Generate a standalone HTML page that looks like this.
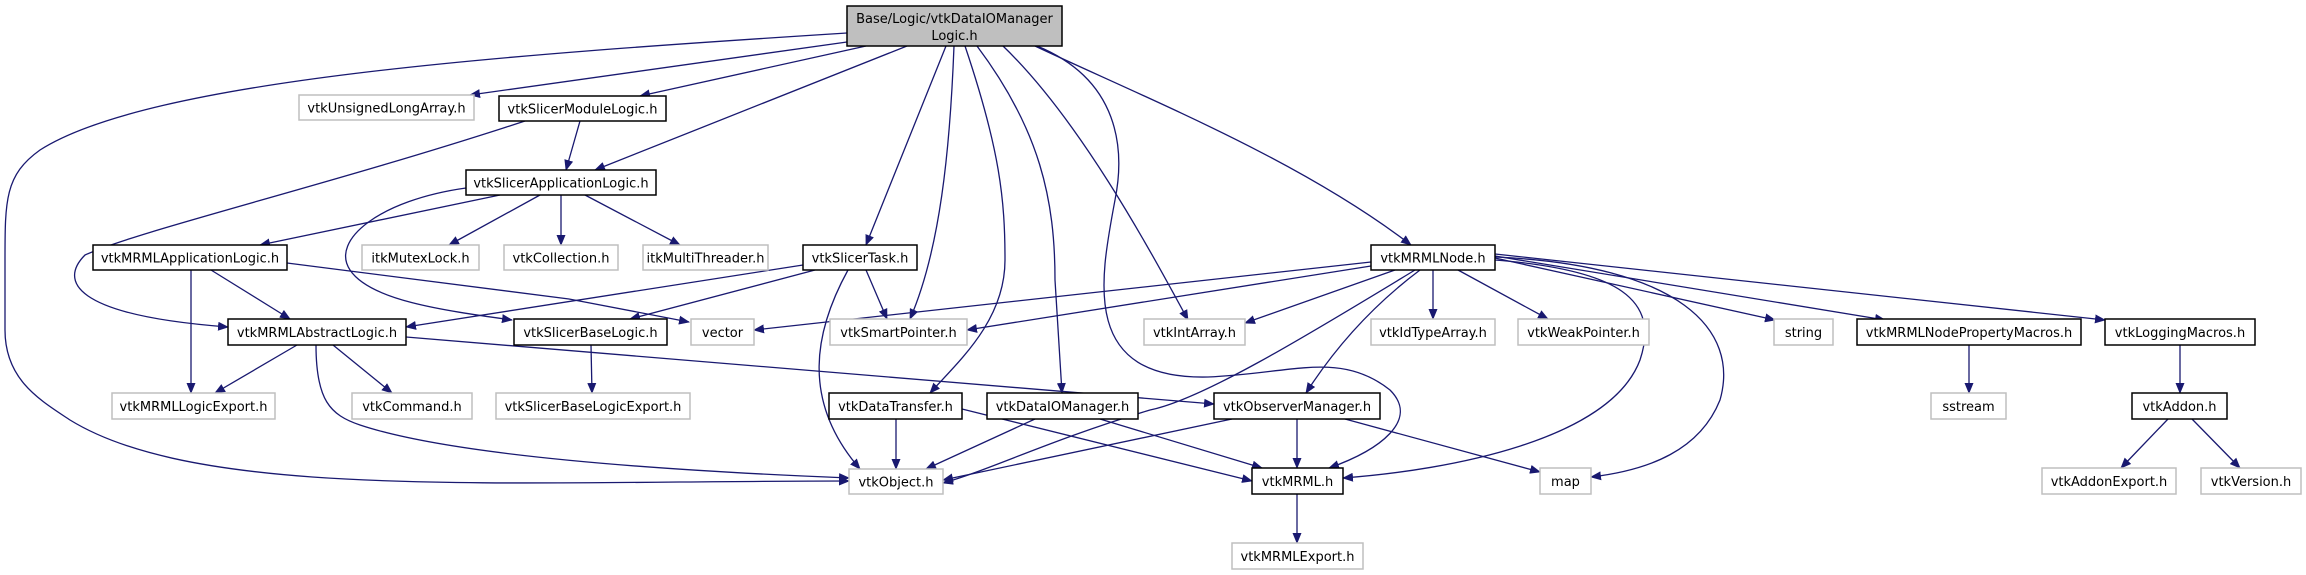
<!DOCTYPE html>
<html><head><meta charset="utf-8"><style>
html,body{margin:0;padding:0;background:#fff;}
svg{display:block;}
text{font-family:"DejaVu Sans","Liberation Sans",sans-serif;font-size:13px;fill:#000;}
.e{fill:none;stroke:#191970;stroke-width:1.3;marker-end:url(#a);}
.g{fill:#fff;stroke:#bfbfbf;stroke-width:1.5;}
.b{fill:#fff;stroke:#000;stroke-width:1.5;}
</style></head><body>
<svg width="2306" height="575" viewBox="0 0 2306 575" xmlns="http://www.w3.org/2000/svg">
<defs><marker id="a" markerUnits="userSpaceOnUse" markerWidth="11" markerHeight="9" refX="10" refY="4.5" orient="auto"><path d="M0,0 L11,4.5 L0,9 z" fill="#191970"/></marker></defs>
<!-- edges from root -->
<path class="e" d="M847,33 C500,55 150,80 40,150 C5,175 5,200 5,260 L5,330 C5,380 40,400 70,420 C200,500 500,481 849,481"/>
<path class="e" d="M847,42 L470,95"/>
<path class="e" d="M866,46 L640,96"/>
<path class="e" d="M907,46 L595,170"/>
<path class="e" d="M946,46 L866,245"/>
<path class="e" d="M954,46 C950,150 940,250 910,319"/>
<path class="e" d="M965,46 C1000,150 1005,200 1005,260 C1005,320 960,360 930,393"/>
<path class="e" d="M977,46 C1040,130 1055,200 1055,280 L1062,393"/>
<path class="e" d="M1003,46 C1080,120 1150,250 1188,320"/>
<path class="e" d="M1037,46 C1120,80 1125,150 1115,200 C1100,280 1080,380 1208,377 C1290,374 1340,350 1390,390 C1420,420 1380,450 1329,468"/>
<path class="e" d="M1035,46 C1150,100 1300,160 1411,245"/>
<!-- others -->
<path class="e" d="M580,121 L566,170"/>
<path class="e" d="M525,121 C330,185 140,230 85,255 C60,280 70,315 228,327"/>
<path class="e" d="M500,195 L260,245"/>
<path class="e" d="M540,195 L449,245"/>
<path class="e" d="M561,195 L561,245"/>
<path class="e" d="M585,195 L680,245"/>
<path class="e" d="M466,188 C380,200 330,240 350,270 C370,300 440,310 512,320"/>
<path class="e" d="M287,263 L569,299 L689,322"/>
<path class="e" d="M191,270 L191,393"/>
<path class="e" d="M211,270 L290,319"/>
<path class="e" d="M803,265 L406,327"/>
<path class="e" d="M815,270 L630,319"/>
<path class="e" d="M866,270 L887,319"/>
<path class="e" d="M848,270 C815,330 800,400 860,469"/>
<path class="e" d="M297,345 L215,393"/>
<path class="e" d="M333,345 L392,393"/>
<path class="e" d="M316,345 C316,400 330,415 360,425 C450,455 650,470 849,478"/>
<path class="e" d="M406,337 L1214,404"/>
<path class="e" d="M591,345 L592,393"/>
<path class="e" d="M896,419 L896,469"/>
<path class="e" d="M962,409 L1252,481"/>
<path class="e" d="M1035,419 L926,469"/>
<path class="e" d="M1100,419 L1262,468"/>
<path class="e" d="M1232,419 L943,480"/>
<path class="e" d="M1297,419 L1297,468"/>
<path class="e" d="M1345,419 L1540,472"/>
<path class="e" d="M1297,494 L1297,543"/>
<path class="e" d="M1371,262 L754,330"/>
<path class="e" d="M1371,266 L967,330"/>
<path class="e" d="M1395,270 L1245,323"/>
<path class="e" d="M1415,270 C1300,340 1200,400 1150,410 C1050,440 990,470 943,483"/>
<path class="e" d="M1420,270 C1380,300 1340,340 1306,393"/>
<path class="e" d="M1433,270 L1433,319"/>
<path class="e" d="M1458,270 L1548,319"/>
<path class="e" d="M1495,258 L1775,320"/>
<path class="e" d="M1495,256 L1885,320"/>
<path class="e" d="M1495,254 L2105,320"/>
<path class="e" d="M1495,260 C1620,270 1660,300 1640,360 C1610,440 1450,470 1343,478"/>
<path class="e" d="M1495,257 C1680,265 1740,330 1720,400 C1700,450 1650,470 1591,477"/>
<path class="e" d="M1969,345 L1969,393"/>
<path class="e" d="M2180,345 L2180,393"/>
<path class="e" d="M2168,419 L2121,468"/>
<path class="e" d="M2192,419 L2240,468"/>
<!-- nodes -->
<rect x="847" y="6" width="215" height="40" fill="#bfbfbf" stroke="#000" stroke-width="1.5"/>
<text x="954.5" y="23" text-anchor="middle">Base/Logic/vtkDataIOManager</text>
<text x="954.5" y="40" text-anchor="middle">Logic.h</text>
<g text-anchor="middle">
<rect class="g" x="299" y="95" width="175" height="25"/><text x="386.5" y="112.5">vtkUnsignedLongArray.h</text>
<rect class="b" x="499" y="96" width="167" height="25"/><text x="582.5" y="113.5">vtkSlicerModuleLogic.h</text>
<rect class="b" x="466" y="170" width="190" height="25"/><text x="561" y="187.5">vtkSlicerApplicationLogic.h</text>
<rect class="b" x="93" y="245" width="194" height="25"/><text x="190" y="262.5">vtkMRMLApplicationLogic.h</text>
<rect class="g" x="362" y="245" width="117" height="25"/><text x="420.5" y="262.5">itkMutexLock.h</text>
<rect class="g" x="504" y="245" width="114" height="25"/><text x="561" y="262.5">vtkCollection.h</text>
<rect class="g" x="643" y="245" width="125" height="25"/><text x="705.5" y="262.5">itkMultiThreader.h</text>
<rect class="b" x="803" y="245" width="114" height="25"/><text x="860" y="262.5">vtkSlicerTask.h</text>
<rect class="b" x="1371" y="245" width="124" height="25"/><text x="1433" y="262.5">vtkMRMLNode.h</text>
<rect class="b" x="228" y="319" width="178" height="26"/><text x="317" y="337">vtkMRMLAbstractLogic.h</text>
<rect class="b" x="514" y="319" width="153" height="26"/><text x="590.5" y="337">vtkSlicerBaseLogic.h</text>
<rect class="g" x="691" y="319" width="63" height="26"/><text x="722.5" y="337">vector</text>
<rect class="g" x="830" y="319" width="137" height="26"/><text x="898.5" y="337">vtkSmartPointer.h</text>
<rect class="g" x="1144" y="319" width="101" height="26"/><text x="1194.5" y="337">vtkIntArray.h</text>
<rect class="g" x="1371" y="319" width="124" height="26"/><text x="1433" y="337">vtkIdTypeArray.h</text>
<rect class="g" x="1518" y="319" width="131" height="26"/><text x="1583.5" y="337">vtkWeakPointer.h</text>
<rect class="g" x="1774" y="319" width="59" height="26"/><text x="1803.5" y="337">string</text>
<rect class="b" x="1857" y="319" width="224" height="26"/><text x="1969" y="337">vtkMRMLNodePropertyMacros.h</text>
<rect class="b" x="2105" y="319" width="150" height="26"/><text x="2180" y="337">vtkLoggingMacros.h</text>
<rect class="g" x="112" y="393" width="163" height="26"/><text x="193.5" y="411">vtkMRMLLogicExport.h</text>
<rect class="g" x="352" y="393" width="120" height="26"/><text x="412" y="411">vtkCommand.h</text>
<rect class="g" x="496" y="393" width="194" height="26"/><text x="593" y="411">vtkSlicerBaseLogicExport.h</text>
<rect class="b" x="829" y="393" width="133" height="26"/><text x="895.5" y="411">vtkDataTransfer.h</text>
<rect class="b" x="987" y="393" width="151" height="26"/><text x="1062.5" y="411">vtkDataIOManager.h</text>
<rect class="b" x="1214" y="393" width="166" height="26"/><text x="1297" y="411">vtkObserverManager.h</text>
<rect class="g" x="1931" y="393" width="75" height="26"/><text x="1968.5" y="411">sstream</text>
<rect class="b" x="2132" y="393" width="95" height="26"/><text x="2179.5" y="411">vtkAddon.h</text>
<rect class="g" x="849" y="469" width="94" height="25"/><text x="896" y="486.5">vtkObject.h</text>
<rect class="b" x="1252" y="468" width="91" height="26"/><text x="1297.5" y="486">vtkMRML.h</text>
<rect class="g" x="1540" y="468" width="51" height="26"/><text x="1565.5" y="486">map</text>
<rect class="g" x="2042" y="468" width="134" height="26"/><text x="2109" y="486">vtkAddonExport.h</text>
<rect class="g" x="2201" y="468" width="100" height="26"/><text x="2251" y="486">vtkVersion.h</text>
<rect class="g" x="1232" y="543" width="131" height="26"/><text x="1297.5" y="561">vtkMRMLExport.h</text>
</g>
</svg>
</body></html>
